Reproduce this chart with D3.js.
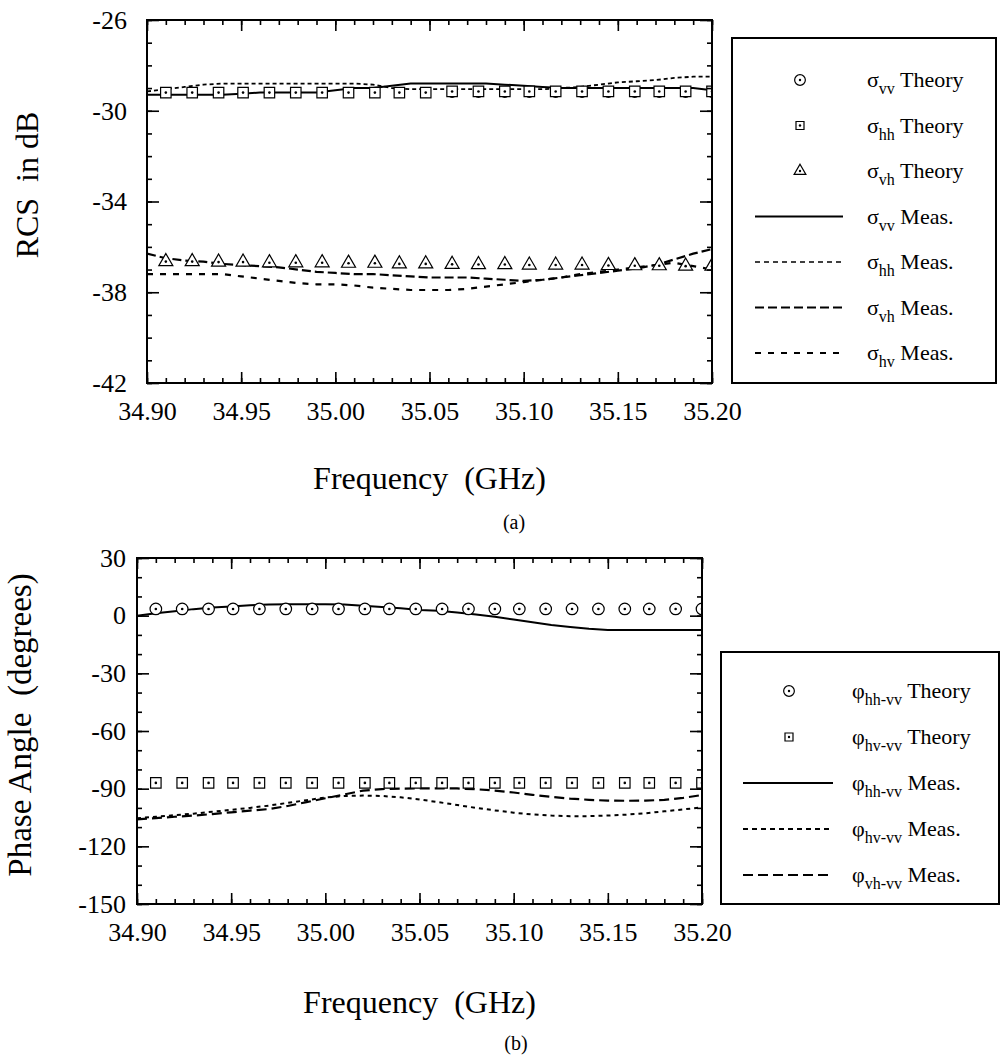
<!DOCTYPE html>
<html>
<head>
<meta charset="utf-8">
<script src="https://cdn.jsdelivr.net/npm/d3@7"></script>
<style>
body { margin: 0; background: #fff; }
svg { font-family: "Liberation Serif", "Times New Roman", serif; }
</style>
</head>
<body>
<svg id="fig" width="1001" height="1055"></svg>
<script>
// ---- shared frequency axis (GHz) ----
var freqTicks = [34.90, 34.95, 35.00, 35.05, 35.10, 35.15, 35.20]
var theoryFreq = [34.910, 34.924, 34.938, 34.951, 34.965, 34.979, 34.993, 35.007, 35.021, 35.034, 35.048,
                  35.062, 35.076, 35.090, 35.103, 35.117, 35.131, 35.145, 35.159, 35.172, 35.186, 35.200]
var measFreq = [34.90, 34.91, 34.92, 34.93, 34.94, 34.95, 34.96, 34.97, 34.98, 34.99, 35.00,
                35.01, 35.02, 35.03, 35.04, 35.05, 35.06, 35.07, 35.08, 35.09, 35.10,
                35.11, 35.12, 35.13, 35.14, 35.15, 35.16, 35.17, 35.18, 35.19, 35.20]

// ---- (a) RCS in dB ----
var rcsTicks = [-42, -38, -34, -30, -26]
var vvTheory = [-29.2, -29.2, -29.2, -29.2, -29.2, -29.2, -29.2, -29.2, -29.2, -29.2, -29.2,
                -29.2, -29.2, -29.2, -29.2, -29.2, -29.2, -29.2, -29.2, -29.2, -29.2, -29.2]
var hhTheory = [-29.2, -29.2, -29.2, -29.2, -29.2, -29.2, -29.2, -29.2, -29.2, -29.2, -29.2,
                -29.15, -29.15, -29.15, -29.15, -29.15, -29.15, -29.15, -29.15, -29.15, -29.15, -29.15]
var vhTheory = [-36.65, -36.65, -36.67, -36.67, -36.7, -36.7, -36.7, -36.72, -36.72, -36.75, -36.75,
                -36.77, -36.78, -36.78, -36.8, -36.8, -36.8, -36.82, -36.83, -36.83, -36.85, -36.85]
var vvMeas = [-29.3, -29.3, -29.3, -29.3, -29.3, -29.25, -29.2, -29.2, -29.2, -29.2, -29.1,
              -29.0, -29.0, -28.9, -28.8, -28.8, -28.8, -28.8, -28.8, -28.85, -28.9,
              -28.95, -29.0, -29.0, -29.0, -29.0, -29.0, -29.0, -29.0, -29.0, -29.1]
var hhMeas = [-29.15, -29.05, -28.95, -28.85, -28.8, -28.8, -28.8, -28.8, -28.8, -28.8, -28.8,
              -28.8, -28.85, -29.0, -29.05, -29.05, -29.05, -29.05, -29.05, -29.05, -29.05,
              -29.05, -29.0, -28.95, -28.85, -28.75, -28.7, -28.65, -28.55, -28.5, -28.5]
var vhMeas = [-36.3, -36.5, -36.6, -36.65, -36.75, -36.8, -36.85, -36.9, -37.0, -37.1, -37.15,
              -37.2, -37.2, -37.25, -37.3, -37.35, -37.35, -37.35, -37.4, -37.45, -37.5,
              -37.45, -37.35, -37.25, -37.15, -37.05, -36.95, -36.8, -36.55, -36.3, -36.1]
var hvMeas = [-37.2, -37.2, -37.2, -37.2, -37.2, -37.3, -37.4, -37.5, -37.6, -37.65, -37.65,
              -37.7, -37.8, -37.85, -37.9, -37.9, -37.9, -37.85, -37.75, -37.65, -37.55,
              -37.45, -37.35, -37.2, -37.1, -37.0, -36.9, -36.8, -36.7, -36.85, -37.0]

// ---- (b) phase angle in degrees ----
var phaseTicks = [-150, -120, -90, -60, -30, 0, 30]
var hhvvTheory = [3.5, 3.5, 3.5, 3.5, 3.5, 3.5, 3.5, 3.5, 3.5, 3.5, 3.5,
                  3.5, 3.5, 3.5, 3.5, 3.5, 3.5, 3.5, 3.5, 3.5, 3.5, 3.5]
var hvvvTheory = [-87, -87, -87, -87, -87, -87, -87, -87, -87, -87, -87,
                  -87, -87, -87, -87, -87, -87, -87, -87, -87, -87, -87]
var hhvvMeas = [0, 1.2, 2.3, 3.4, 4.2, 4.8, 5.4, 5.8, 6.0, 6.0, 6.0,
                5.8, 5.2, 4.5, 3.8, 3.0, 2.5, 1.7, 0.6, -0.6, -2.0,
                -3.4, -4.8, -5.9, -6.8, -7.4, -7.5, -7.5, -7.5, -7.5, -7.5]
var hvvvMeas = [-105.4, -104.6, -103.8, -103.0, -102.0, -101.0, -100.0, -98.8, -97.4, -96.0, -94.6,
                -93.8, -93.6, -93.8, -94.5, -95.6, -97.0, -98.5, -100.0, -101.3, -102.5,
                -103.4, -104.0, -104.3, -104.3, -104.0, -103.5, -102.8, -101.8, -100.8, -99.7]
var vhvvMeas = [-106, -105.3, -104.6, -104.0, -103.2, -102.3, -101.4, -100.6, -99.0, -97.0, -95.0,
                -93.0, -91.0, -90.2, -90.0, -89.8, -89.8, -89.9, -90.3, -91.0, -92.0,
                -93.2, -94.3, -95.2, -95.8, -96.2, -96.3, -96.2, -95.8, -94.8, -93.3]

var svg = d3.select('#fig')
var FONT = '"Liberation Serif", "Times New Roman", serif'

// marker drawing: white filled outline plus a centre dot
function drawMarkers (g, x, y, xs, ys, shape) {
    var pts = xs.map(function (f, i) { return [x(f), y(ys[i])] })
    var sym
    if (shape == 'circle') sym = d3.symbol().type(d3.symbolCircle).size(105)
    if (shape == 'circleSmall') sym = d3.symbol().type(d3.symbolCircle).size(70)
    if (shape == 'square') sym = d3.symbol().type(d3.symbolSquare).size(110)
    if (shape == 'triangle') sym = d3.symbol().type(d3.symbolTriangle).size(85)
    g.selectAll(null).data(pts).enter().append('path')
        .attr('transform', d => `translate(${d[0]},${d[1]})`)
        .attr('d', sym)
        .attr('fill', 'white').attr('stroke', 'black').attr('stroke-width', 1.2)
    g.selectAll(null).data(pts).enter().append('circle')
        .attr('cx', d => d[0]).attr('cy', d => d[1]).attr('r', 1.3).attr('fill', 'black')
}

function drawLine (g, x, y, ys, dash, w) {
    var line = d3.line().x((d, i) => x(measFreq[i])).y(d => y(d))
    g.append('path').datum(ys)
        .attr('d', line)
        .attr('fill', 'none').attr('stroke', 'black')
        .attr('stroke-width', w)
        .attr('stroke-dasharray', dash)
}

// plain hyphen for negatives, like the original figure
var intFmt = d => String(d)

function drawFrame (id, x, y, yTicks, yMinorCount, labelPad) {
    var x0 = x.range()[0], x1 = x.range()[1], y0 = y.range()[1], y1 = y.range()[0]
    var xMinor = x.ticks(30), yMinor = y.ticks(yMinorCount)
    var axes = [
        [d3.axisBottom(x).tickValues(freqTicks).tickSize(-11).tickPadding(19).tickFormat(d3.format('.2f')), `0,${y1}`],
        [d3.axisBottom(x).tickValues(xMinor).tickSize(-5).tickFormat(''), `0,${y1}`],
        [d3.axisTop(x).tickValues(freqTicks).tickSize(-11).tickFormat(''), `0,${y0}`],
        [d3.axisTop(x).tickValues(xMinor).tickSize(-5).tickFormat(''), `0,${y0}`],
        [d3.axisLeft(y).tickValues(yTicks).tickSize(-12).tickPadding(labelPad).tickFormat(intFmt), `${x0},0`],
        [d3.axisLeft(y).tickValues(yMinor).tickSize(-5).tickFormat(''), `${x0},0`],
        [d3.axisRight(y).tickValues(yTicks).tickSize(-12).tickFormat(''), `${x1},0`],
        [d3.axisRight(y).tickValues(yMinor).tickSize(-5).tickFormat(''), `${x1},0`]
    ]
    axes.forEach(function (a) {
        var g = svg.append('g').attr('class', 'axis ' + id)
            .attr('transform', `translate(${a[1]})`)
            .call(a[0])
        g.select('.domain').remove()
        g.selectAll('line').attr('stroke-width', 1.6)
        g.selectAll('text').attr('font-family', FONT).attr('font-size', 26).attr('fill', 'black')
    })
    svg.append('rect')
        .attr('x', x0).attr('y', y0)
        .attr('width', x1 - x0).attr('height', y1 - y0)
        .attr('fill', 'none').attr('stroke', 'black').attr('stroke-width', 2)
}

// ---------------- panel (a) ----------------
var xA = d3.scaleLinear().domain([34.9, 35.2]).range([147, 712])
var yA = d3.scaleLinear().domain([-42, -26]).range([383, 20])

svg.append('clipPath').attr('id', 'clipA').append('rect')
    .attr('x', 147).attr('y', 20).attr('width', 565).attr('height', 363)
var gA = svg.append('g').attr('clip-path', 'url(#clipA)')
drawLine(gA, xA, yA, vvMeas, null, 2)
drawLine(gA, xA, yA, hhMeas, '4,3', 1.8)
drawLine(gA, xA, yA, vhMeas, '9,4', 2.2)
drawLine(gA, xA, yA, hvMeas, '6,7', 2.2)
drawMarkers(gA, xA, yA, theoryFreq, vvTheory, 'circleSmall')
drawMarkers(gA, xA, yA, theoryFreq, hhTheory, 'square')
drawMarkers(gA, xA, yA, theoryFreq, vhTheory, 'triangle')
drawFrame('a', xA, yA, rcsTicks, 16, 20)

svg.append('text').attr('transform', 'translate(38,185) rotate(-90)')
    .attr('text-anchor', 'middle').attr('font-size', 32).text('RCS\u00a0 in dB')
svg.append('text').attr('x', 429.5).attr('y', 489)
    .attr('text-anchor', 'middle').attr('font-size', 32).text('Frequency\u00a0 (GHz)')
svg.append('text').attr('x', 514).attr('y', 529)
    .attr('text-anchor', 'middle').attr('font-size', 20).text('(a)')

// ---------------- panel (b) ----------------
var xB = d3.scaleLinear().domain([34.9, 35.2]).range([137, 702])
var yB = d3.scaleLinear().domain([-150, 30]).range([904, 558])

svg.append('clipPath').attr('id', 'clipB').append('rect')
    .attr('x', 137).attr('y', 558).attr('width', 565).attr('height', 346)
var gB = svg.append('g').attr('clip-path', 'url(#clipB)')
drawLine(gB, xB, yB, hhvvMeas, null, 2)
drawLine(gB, xB, yB, hvvvMeas, '4,4', 2)
drawLine(gB, xB, yB, vhvvMeas, '10,5', 2.2)
drawMarkers(gB, xB, yB, theoryFreq, hhvvTheory, 'circle')
drawMarkers(gB, xB, yB, theoryFreq, hvvvTheory, 'square')
drawFrame('b', xB, yB, phaseTicks, 18, 11)

svg.append('text').attr('transform', 'translate(31,725) rotate(-90)')
    .attr('text-anchor', 'middle').attr('font-size', 33).text('Phase Angle\u00a0 (degrees)')
svg.append('text').attr('x', 419.5).attr('y', 1013)
    .attr('text-anchor', 'middle').attr('font-size', 32).text('Frequency\u00a0 (GHz)')
svg.append('text').attr('x', 516).attr('y', 1050)
    .attr('text-anchor', 'middle').attr('font-size', 20).text('(b)')

// ---------------- legends ----------------
var legendA = [
    { sym: 'circle', main: '\u03c3', sub: 'vv', rest: ' Theory' },
    { sym: 'square', main: '\u03c3', sub: 'hh', rest: ' Theory' },
    { sym: 'triangle', main: '\u03c3', sub: 'vh', rest: ' Theory' },
    { dash: null, w: 2, main: '\u03c3', sub: 'vv', rest: ' Meas.' },
    { dash: '5,4', w: 1.4, main: '\u03c3', sub: 'hh', rest: ' Meas.' },
    { dash: '9,4', w: 2.2, main: '\u03c3', sub: 'vh', rest: ' Meas.' },
    { dash: '6,7', w: 2.2, main: '\u03c3', sub: 'hv', rest: ' Meas.' }
]
var legendB = [
    { sym: 'circle', main: '\u03c6', sub: 'hh-vv', rest: ' Theory' },
    { sym: 'square', main: '\u03c6', sub: 'hv-vv', rest: ' Theory' },
    { dash: null, w: 2, main: '\u03c6', sub: 'hh-vv', rest: ' Meas.' },
    { dash: '5,4', w: 2, main: '\u03c6', sub: 'hv-vv', rest: ' Meas.' },
    { dash: '10,5', w: 2.2, main: '\u03c6', sub: 'vh-vv', rest: ' Meas.' }
]

function drawLegend (items, box, rowY, rowStep, symX, lineX, textX) {
    svg.append('rect').attr('x', box[0]).attr('y', box[1])
        .attr('width', box[2] - box[0]).attr('height', box[3] - box[1])
        .attr('fill', 'white').attr('stroke', 'black').attr('stroke-width', 2)
    items.forEach(function (it, i) {
        var cy = rowY + i * rowStep
        if (it.sym) {
            var s = it.sym == 'circle' ? d3.symbol().type(d3.symbolCircle).size(90)
                : it.sym == 'square' ? d3.symbol().type(d3.symbolSquare).size(64)
                : d3.symbol().type(d3.symbolTriangle).size(60)
            svg.append('path').attr('transform', `translate(${symX},${cy})`).attr('d', s)
                .attr('fill', 'white').attr('stroke', 'black').attr('stroke-width', 1.2)
            svg.append('circle').attr('cx', symX).attr('cy', cy).attr('r', 1.2).attr('fill', 'black')
        } else {
            svg.append('line').attr('x1', lineX[0]).attr('x2', lineX[1])
                .attr('y1', cy).attr('y2', cy)
                .attr('stroke', 'black').attr('stroke-width', it.w)
                .attr('stroke-dasharray', it.dash)
        }
        var t = svg.append('text').attr('x', textX).attr('y', cy + 7).attr('font-size', 22)
        t.append('tspan').text(it.main)
        t.append('tspan').attr('font-size', 16).attr('dy', 7).text(it.sub)
        t.append('tspan').attr('dy', -7).text(it.rest)
    })
}

drawLegend(legendA, [732, 38, 996, 383], 80, 45.5, 800, [755, 843], 867)
drawLegend(legendB, [721, 652, 999, 904], 691, 46, 789, [743, 833], 852)
</script>
</body>
</html>
